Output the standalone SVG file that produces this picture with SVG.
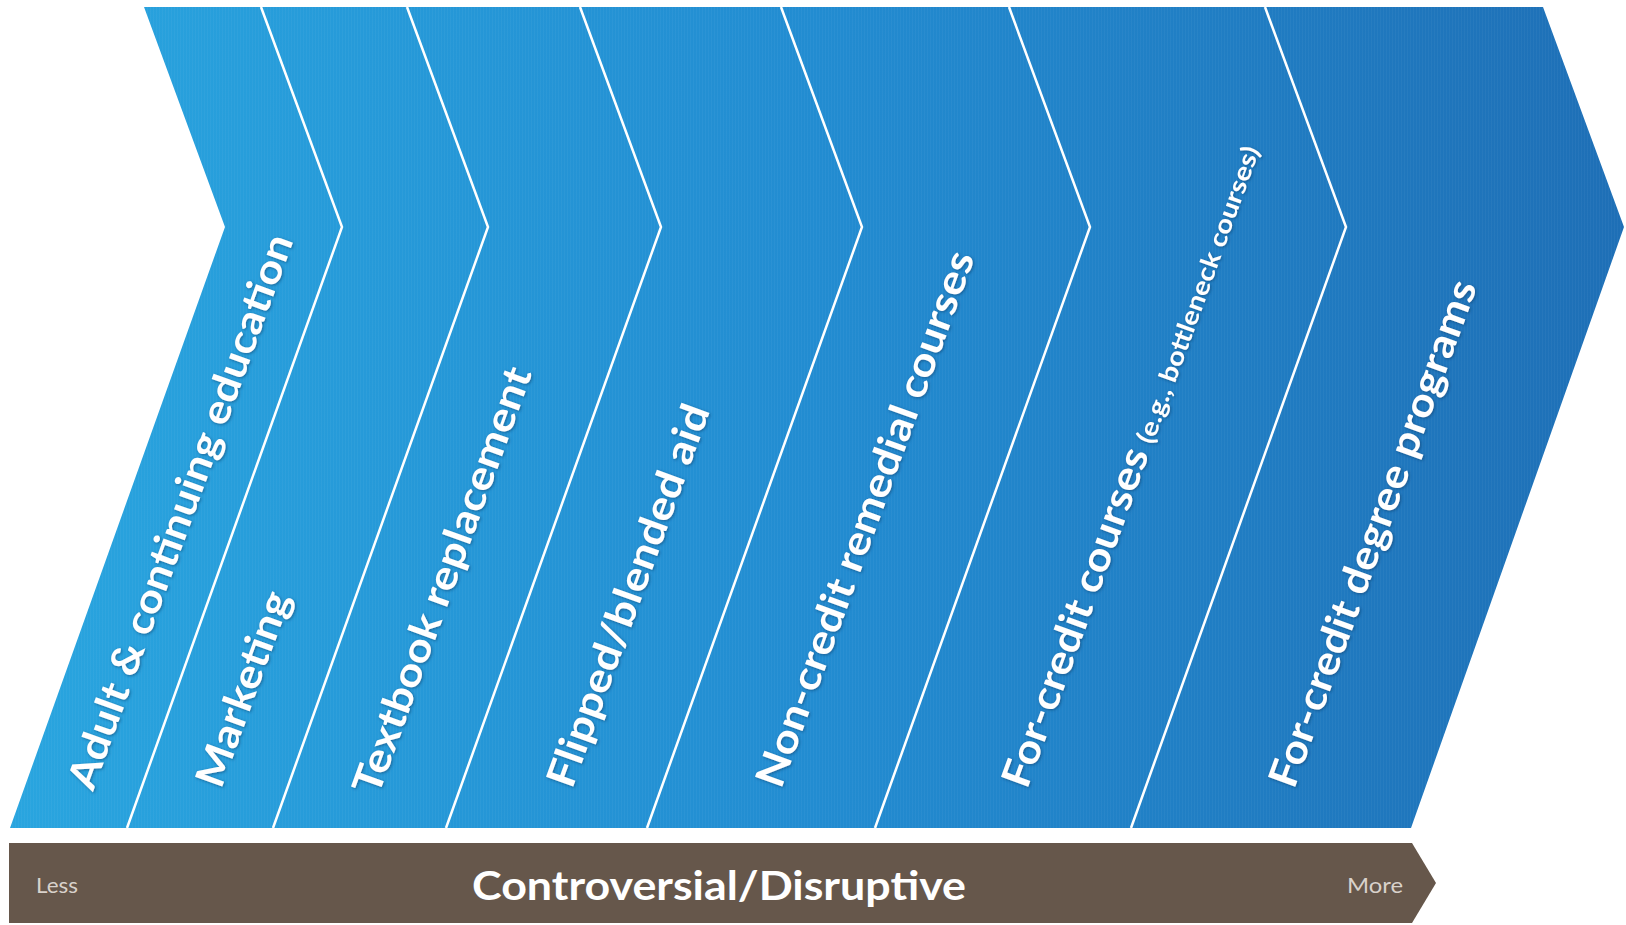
<svg xmlns="http://www.w3.org/2000/svg" width="1626" height="925" viewBox="0 0 1626 925">
  <defs>
    <linearGradient id="blueGrad" x1="10" y1="0" x2="1624" y2="0" gradientUnits="userSpaceOnUse">
      <stop offset="0" stop-color="#29A5DF"/>
      <stop offset="0.5" stop-color="#228CD1"/>
      <stop offset="1" stop-color="#1E6FB6"/>
    </linearGradient>
    <pattern id="stripes" x="0" y="0" width="3" height="10" patternUnits="userSpaceOnUse">
      <rect x="0" y="0" width="1" height="10" fill="#ffffff" fill-opacity="0.035"/>
    </pattern>
    <filter id="shadow" x="-10%" y="-10%" width="120%" height="120%">
      <feDropShadow dx="1" dy="1" stdDeviation="1.5" flood-color="#0b3560" flood-opacity="0.55"/>
    </filter>
  </defs>
  <style>
    .sep { fill: none; stroke: #ffffff; stroke-width: 2.5; stroke-linejoin: miter; }
    .label { font-family: Lato, "Liberation Sans", sans-serif; font-weight: 700; font-size: 40px; fill: #ffffff; }
    .small { font-family: Lato, "Liberation Sans", sans-serif; font-weight: 700; font-size: 25px; fill: #ffffff; }
    .bar-title { font-family: Lato, "Liberation Sans", sans-serif; font-weight: 700; font-size: 40px; fill: #ffffff; }
    .bar-end { font-family: Lato, "Liberation Sans", sans-serif; font-weight: 400; font-size: 21px; fill: #d9d2cb; }
  </style>
  <rect x="0" y="0" width="1626" height="925" fill="#ffffff"/>

  <g id="chevron-band">
    <polygon points="144,7 1543,7 1624,227 1411,828 10,828 225,227" fill="url(#blueGrad)"/>
    <polygon points="144,7 1543,7 1624,227 1411,828 10,828 225,227" fill="url(#stripes)"/>
  </g>

  <g id="separators">
    <polyline class="sep" points="261,7 342,227 127,828"/>
    <polyline class="sep" points="407,7 488,227 273,828"/>
    <polyline class="sep" points="580,7 661,227 446,828"/>
    <polyline class="sep" points="781,7 862,227 647,828"/>
    <polyline class="sep" points="1009,7 1090,227 875,828"/>
    <polyline class="sep" points="1265,7 1346,227 1131,828"/>
  </g>

  <g id="node-adult" filter="url(#shadow)">
    <text class="label" transform="translate(93,792) rotate(-70)" textLength="587" lengthAdjust="spacingAndGlyphs">Adult &amp; continuing education</text>
  </g>
  <g id="node-marketing" filter="url(#shadow)">
    <text class="label" transform="translate(221,790) rotate(-70)" textLength="205" lengthAdjust="spacingAndGlyphs">Marketing</text>
  </g>
  <g id="node-textbook" filter="url(#shadow)">
    <text class="label" transform="translate(378,797) rotate(-70)" textLength="451" lengthAdjust="spacingAndGlyphs">Textbook replacement</text>
  </g>
  <g id="node-flipped" filter="url(#shadow)">
    <text class="label" transform="translate(572,790) rotate(-70)" textLength="404" lengthAdjust="spacingAndGlyphs">Flipped/blended aid</text>
  </g>
  <g id="node-noncredit" filter="url(#shadow)">
    <text class="label" transform="translate(781,790) rotate(-70)" textLength="567" lengthAdjust="spacingAndGlyphs">Non-credit remedial courses</text>
  </g>
  <g id="node-forcredit-courses" filter="url(#shadow)">
    <g transform="translate(1027,790) rotate(-70)">
      <text class="label" x="0" y="0" textLength="358" lengthAdjust="spacingAndGlyphs">For-credit courses</text>
      <text class="small" x="367" y="0" textLength="314" lengthAdjust="spacingAndGlyphs">(e.g., bottleneck courses)</text>
    </g>
  </g>
  <g id="node-forcredit-degree" filter="url(#shadow)">
    <text class="label" transform="translate(1294,790) rotate(-70)" textLength="536" lengthAdjust="spacingAndGlyphs">For-credit degree programs</text>
  </g>

  <g id="node-scale-bar">
    <polygon points="9,843 1412,843 1436,883 1412,923 9,923" fill="#66574B"/>
    <text class="bar-end" x="36" y="893" textLength="42" lengthAdjust="spacingAndGlyphs">Less</text>
    <text class="bar-title" x="472" y="900" textLength="494" lengthAdjust="spacingAndGlyphs">Controversial/Disruptive</text>
    <text class="bar-end" x="1347" y="893" textLength="56" lengthAdjust="spacingAndGlyphs">More</text>
  </g>
</svg>
